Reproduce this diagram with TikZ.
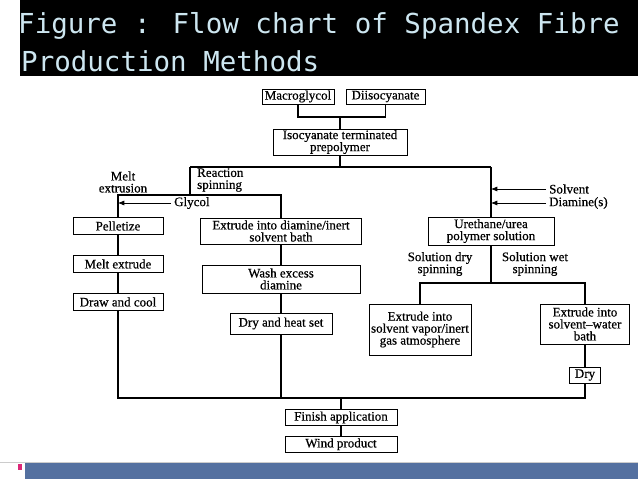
\documentclass[tikz,border=0pt]{standalone}
\usepackage{fontspec}
\setmainfont{Liberation Serif}
\newfontfamily\diagfont{Liberation Serif}[FakeBold=0.6, Ligatures=TeX]
\newfontfamily\titlefont{DejaVu Sans Mono}
\usetikzlibrary{arrows.meta,positioning}
\definecolor{titletext}{RGB}{205,230,240}
\definecolor{barblue}{RGB}{84,112,160}
\definecolor{barpink}{RGB}{220,40,120}

\begin{document}
\begin{tikzpicture}[x=1pt, y=-1pt,
    block/.style={draw, line width=0.8pt, align=center, inner sep=1pt, font=\diagfont\fontsize{13}{12}\selectfont},
    note/.style={align=center, inner sep=1pt, font=\diagfont\fontsize{13}{12}\selectfont},
    link/.style={line width=1.4pt},
    arrow/.style={-{Latex[length=2.2mm, width=1.8mm]}, thick},
    heading/.style={anchor=base west, inner sep=0pt, text=titletext, font=\titlefont\fontsize{27.5}{30}\selectfont}
  ]
    \useasboundingbox (0,0) rectangle (638,479);
    % title band
    \fill[black] (20,0) rectangle (638,76);
    \node[heading] (title1) at (18,33) {Figure : Flow chart of Spandex Fibre};
    \node[heading] (title2) at (21,71) {Production Methods};
    % footer band
    \draw[gray!40] (0,462) -- (638,462);
    \fill[barblue] (25,463) rectangle (638,479);
    \fill[barpink] (18,464) rectangle (22,470);

    \node[block, minimum width=72pt, minimum height=15pt] (macro) at (298,96.5) {Macroglycol};
    \node[block, minimum width=79pt, minimum height=15pt] (diiso) at (385.5,96.5) {Diisocyanate};
    \node[block, minimum width=134pt, minimum height=26pt] (prepoly) at (340,142) {Isocyanate terminated\\prepolymer};
    \node[block, minimum width=90pt, minimum height=17pt] (pellet) at (118,226) {Pelletize};
    \node[block, minimum width=90pt, minimum height=17pt] (meltext) at (118,264) {Melt extrude};
    \node[block, minimum width=90pt, minimum height=17pt] (drawcool) at (118,302) {Draw and cool};
    \node[block, minimum width=161pt, minimum height=26pt] (bath) at (281,231) {Extrude into diamine/inert\\solvent bath};
    \node[block, minimum width=158pt, minimum height=28pt] (wash) at (281,279) {Wash excess\\diamine};
    \node[block, minimum width=102pt, minimum height=21pt] (heatset) at (281,323.5) {Dry and heat set};
    \node[block, minimum width=126pt, minimum height=28pt] (urea) at (491,231) {Urethane/urea\\polymer solution};
    \node[block, minimum width=102pt, minimum height=51pt] (vapor) at (420,329.5) {Extrude into\\solvent vapor/inert\\gas atmosphere};
    \node[block, minimum width=89pt, minimum height=40pt] (water) at (585,324) {Extrude into\\solvent–water\\bath};
    \node[block, minimum width=31pt, minimum height=16pt] (drybox) at (585,375) {Dry};
    \node[block, minimum width=112pt, minimum height=16pt] (finish) at (341,417.5) {Finish application};
    \node[block, minimum width=112pt, minimum height=16pt, below=10pt of finish] (wind) {Wind product};

    \node[note] (melt) at (123,182) {Melt\\extrusion};
    \node[note, align=left, anchor=west] (reaction) at (196,180) {Reaction\\spinning};
    \node[note, anchor=west, inner sep=3pt] (glycol) at (171,203) {Glycol};
    \node[note, anchor=west, inner sep=3pt] (solvent) at (546,189) {Solvent};
    \node[note, anchor=west, inner sep=3pt] (diamine) at (546,203) {Diamine(s)};
    \node[note] (drysp) at (440,264) {Solution dry\\spinning};
    \node[note] (wetsp) at (535,264) {Solution wet\\spinning};

    \coordinate (join) at (340,117);
    \coordinate (top) at (340,167);
    \coordinate (rs) at (190,167);
    \coordinate (ss) at (491,167);
    \coordinate (hb) at (190,195);
    \coordinate (ws) at (491,283);
    \coordinate (fin) at (341,398);

    \draw[link] (macro) |- (join) -| (diiso);
    \draw[link] (join) -- (prepoly);
    \draw[link] (prepoly) -- (top);
    \draw[link] (rs) -- (ss);
    \draw[link] (rs) -- (hb);
    \draw[link] (pellet) |- (hb) -| (bath);
    \draw[arrow] (glycol) -- (glycol -| pellet);
    \draw[link] (pellet) -- (meltext);
    \draw[link] (meltext) -- (drawcool);
    \draw[link] (bath) -- (wash);
    \draw[link] (wash) -- (heatset);
    \draw[link] (ss) -- (urea);
    \draw[arrow] (solvent) -- (solvent -| urea);
    \draw[arrow] (diamine) -- (diamine -| urea);
    \draw[link] (urea) -- (ws);
    \draw[link] (vapor) |- (ws) -| (water);
    \draw[link] (water) -- (drybox);
    \draw[link] (drawcool) |- (fin) -| (drybox);
    \draw[link] (heatset) -- (heatset |- fin);
    \draw[link] (fin) -- (finish);
    \draw[link] (finish) -- (wind);
  \end{tikzpicture}
\end{document}
